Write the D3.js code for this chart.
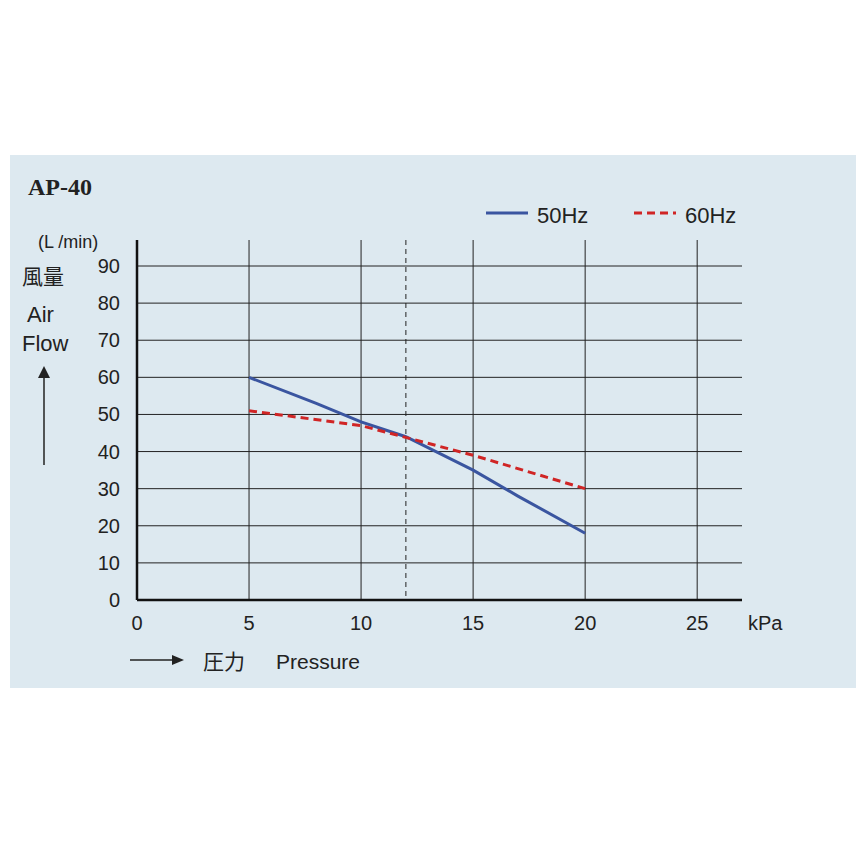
<!DOCTYPE html>
<html><head><meta charset="utf-8">
<script src="https://cdn.jsdelivr.net/npm/d3@7"></script>
<style>body{margin:0;background:#fff}</style>
</head><body>
<svg id="chart" width="856" height="856"></svg>
<script>
const pressure50 = [5, 8, 10, 12, 15, 17, 20]
const flow50 = [60, 53, 48, 44, 35, 28, 18]
const pressure60 = [5, 10, 15, 20]
const flow60 = [51, 47, 39, 30]
const xTicks = [0, 5, 10, 15, 20, 25]
const yTicks = [0, 10, 20, 30, 40, 50, 60, 70, 80, 90]

const svg = d3.select("#chart")
svg.append("rect").attr("x", 10).attr("y", 155).attr("width", 846).attr("height", 533).attr("fill", "#dde9f0")

const x = d3.scaleLinear().domain([0, 27]).range([137, 742])
const y = d3.scaleLinear().domain([0, 90]).range([600, 266])
const font = "Liberation Sans, Arial, sans-serif"

// grid
svg.selectAll(".hg").data(yTicks.slice(1)).enter().append("line")
  .attr("x1", x(0)).attr("x2", x(27)).attr("y1", d => y(d)).attr("y2", d => y(d))
  .attr("stroke", "#222").attr("stroke-width", 1)
svg.selectAll(".vg").data(xTicks.slice(1)).enter().append("line")
  .attr("x1", d => x(d)).attr("x2", d => x(d)).attr("y1", 240).attr("y2", y(0))
  .attr("stroke", "#222").attr("stroke-width", 1)
svg.append("line").attr("x1", x(12)).attr("x2", x(12)).attr("y1", 240).attr("y2", y(0))
  .attr("stroke", "#222").attr("stroke-dasharray", "5,4")
// axes
svg.append("line").attr("x1", x(0)).attr("x2", x(0)).attr("y1", 240).attr("y2", y(0)).attr("stroke", "#111").attr("stroke-width", 2.5)
svg.append("line").attr("x1", x(0)).attr("x2", x(27)).attr("y1", y(0)).attr("y2", y(0)).attr("stroke", "#111").attr("stroke-width", 2.5)

svg.selectAll(".yl").data(yTicks).enter().append("text")
  .attr("x", 120).attr("y", d => y(d) + 7).attr("text-anchor", "end")
  .attr("font-family", font).attr("font-size", 20).attr("fill", "#222").text(d => d)
svg.selectAll(".xl").data(xTicks).enter().append("text")
  .attr("x", d => x(d)).attr("y", 630).attr("text-anchor", "middle")
  .attr("font-family", font).attr("font-size", 20).attr("fill", "#222").text(d => d)
svg.append("text").attr("x", 748).attr("y", 630).attr("font-family", font).attr("font-size", 20).attr("fill", "#222").text("kPa")

const line = d3.line().x(d => x(d[0])).y(d => y(d[1]))
svg.append("path").datum(d3.zip(pressure50, flow50)).attr("d", line)
  .attr("fill", "none").attr("stroke", "#3a55a0").attr("stroke-width", 3)
svg.append("path").datum(d3.zip(pressure60, flow60)).attr("d", line)
  .attr("fill", "none").attr("stroke", "#d02525").attr("stroke-width", 3).attr("stroke-dasharray", "8,5")

// legend
svg.append("line").attr("x1", 486).attr("x2", 528).attr("y1", 213).attr("y2", 213).attr("stroke", "#3a55a0").attr("stroke-width", 3)
svg.append("text").attr("x", 537).attr("y", 223).attr("font-family", font).attr("font-size", 22).attr("fill", "#222").text("50Hz")
svg.append("line").attr("x1", 634).attr("x2", 676).attr("y1", 213).attr("y2", 213).attr("stroke", "#d02525").attr("stroke-width", 3).attr("stroke-dasharray", "8,5")
svg.append("text").attr("x", 685).attr("y", 223).attr("font-family", font).attr("font-size", 22).attr("fill", "#222").text("60Hz")

// titles
svg.append("text").attr("x", 28).attr("y", 195).attr("font-family", "Liberation Serif, serif").attr("font-weight", "bold").attr("font-size", 24).attr("fill", "#222").text("AP-40")
svg.append("text").attr("x", 38).attr("y", 248).attr("font-family", font).attr("font-size", 18).attr("fill", "#222").text("(L /min)")
svg.append("text").attr("x", 22).attr("y", 284).attr("font-family", "Noto Sans CJK JP").attr("font-size", 21).attr("fill", "#222").text("風量")
svg.append("text").attr("x", 27).attr("y", 322).attr("font-family", font).attr("font-size", 22).attr("fill", "#222").text("Air")
svg.append("text").attr("x", 22).attr("y", 351).attr("font-family", font).attr("font-size", 22).attr("fill", "#222").text("Flow")
svg.append("line").attr("x1", 44).attr("x2", 44).attr("y1", 465).attr("y2", 372).attr("stroke", "#222").attr("stroke-width", 1.5)
svg.append("path").attr("d", "M38,378 L44,366 L50,378 Z").attr("fill", "#222")
svg.append("line").attr("x1", 130).attr("x2", 176).attr("y1", 660).attr("y2", 660).attr("stroke", "#222").attr("stroke-width", 1.5)
svg.append("path").attr("d", "M172,655 L184,660 L172,665 Z").attr("fill", "#222")
svg.append("text").attr("x", 203).attr("y", 669).attr("font-family", "Noto Sans CJK JP").attr("font-size", 21).attr("fill", "#222").text("圧力")
svg.append("text").attr("x", 276).attr("y", 669).attr("font-family", font).attr("font-size", 21).attr("fill", "#222").text("Pressure")
</script>
</body></html>
